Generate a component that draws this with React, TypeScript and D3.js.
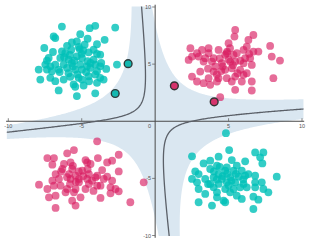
import React from 'react';
import * as d3 from 'd3';

const W = 310;
const H = 242;

// scatter clusters, [x, y] in data units
const cyanTopLeft: [number, number][] = [
  [-6.35, 8.29], [-4.46, 8.15], [-4.08, 8.35], [-2.72, 8.2], [-6.91, 7.42], [-6.8, 7.28], [-5.1, 7.62],
  [-4.6, 7.22], [-5.67, 6.9], [-5.33, 6.99], [-3.96, 6.75], [-3.44, 7.13], [-7.55, 6.41], [-6.96, 6.06],
  [-6.35, 6.12], [-6.12, 5.97], [-5.71, 6.26], [-5.14, 6.32], [-4.53, 6.03], [-4.19, 6.26], [-3.74, 5.83],
  [-3.96, 5.9], [-7.25, 5.54], [-7.37, 5.31], [-6.46, 5.54], [-5.89, 5.39], [-5.33, 5.68], [-4.98, 5.54],
  [-4.6, 5.25], [-4.19, 5.39], [-3.67, 5.1], [-7.48, 4.96], [-7.14, 4.81], [-6.8, 4.96], [-6.23, 4.96],
  [-5.67, 5.1], [-5.1, 4.96], [-4.64, 4.81], [-4.08, 4.96], [-3.74, 4.81], [-2.6, 4.96], [-7.93, 4.52],
  [-7.37, 4.52], [-7.03, 4.38], [-6.57, 4.52], [-6.0, 4.67], [-5.44, 4.52], [-4.98, 4.52], [-4.42, 4.67],
  [-3.96, 4.38], [-3.33, 4.58], [-7.82, 3.65], [-7.14, 3.8], [-6.8, 3.51], [-6.23, 3.65], [-5.78, 3.89],
  [-5.21, 3.8], [-4.98, 3.65], [-4.53, 3.94], [-4.08, 4.09], [-3.74, 3.8], [-3.51, 3.65], [-5.55, 3.22],
  [-5.44, 3.02], [-4.87, 3.13], [-3.96, 3.36], [-6.57, 2.7], [-5.33, 2.2], [-4.08, 2.44], [-5.5, 5.3],
  [-5.0, 5.9], [-4.7, 4.3], [-5.9, 4.2], [-6.2, 5.6], [-4.4, 5.1], [-5.2, 6.5], [-6.0, 6.6], [-4.8, 6.7],
  [-5.6, 4.8], [-5.3, 4.1], [-4.5, 3.5], [-6.5, 4.3], [-5.8, 5.8], [-4.9, 6.2],
];

const crimsonTopRight: [number, number][] = [
  [5.45, 7.99], [5.4, 7.41], [6.69, 7.55], [6.35, 7.12], [5.0, 6.83], [6.24, 6.53], [2.4, 6.39], [3.64, 6.39],
  [3.19, 6.24], [4.32, 6.24], [7.83, 6.59], [2.85, 5.95], [3.64, 5.95], [4.88, 5.95], [5.56, 5.95], [6.02, 6.24],
  [6.69, 6.1], [7.03, 6.1], [2.51, 5.66], [2.96, 5.66], [3.41, 5.52], [3.98, 5.52], [4.77, 5.81], [5.34, 5.81],
  [6.13, 5.52], [6.47, 5.52], [7.94, 5.66], [8.5, 5.31], [2.28, 5.37], [3.3, 5.22], [3.87, 5.22], [4.54, 5.08],
  [5.11, 5.22], [5.45, 5.22], [6.02, 5.08], [6.58, 4.93], [4.09, 4.79], [4.77, 4.5], [5.22, 4.64], [5.79, 4.5],
  [3.07, 4.35], [3.98, 4.35], [6.24, 4.21], [2.51, 3.91], [3.64, 3.77], [4.32, 3.77], [4.88, 3.77], [5.45, 3.91],
  [6.02, 4.06], [8.05, 3.77], [2.85, 3.48], [3.3, 3.33], [3.75, 3.19], [4.21, 3.48], [5.22, 3.48], [5.9, 3.48],
  [6.58, 3.48], [5.45, 2.75], [6.58, 2.69], [4.43, 2.11], [5.0, 5.4], [4.6, 4.8], [5.3, 4.9], [4.9, 6.1],
  [4.4, 5.5], [5.8, 5.3], [3.6, 4.6], [4.2, 4.1], [5.6, 4.2], [4.5, 4.4], [6.4, 5.9], [5.1, 6.4],
];

const crimsonBottomLeft: [number, number][] = [
  [-3.95, -1.76], [-5.53, -2.52], [-5.99, -2.81], [-6.89, -3.22], [-7.34, -3.22], [-4.74, -3.4], [-3.9, -3.22],
  [-2.48, -2.93], [-2.93, -3.45], [-3.27, -3.6], [-4.63, -3.6], [-4.4, -3.74], [-6.21, -3.74], [-5.76, -3.6],
  [-7.0, -3.8], [-6.32, -4.18], [-5.65, -4.18], [-4.97, -4.33], [-3.61, -4.27], [-6.78, -4.62], [-5.87, -4.62],
  [-5.42, -4.76], [-4.51, -4.62], [-3.95, -4.76], [-3.27, -4.85], [-2.48, -4.39], [-6.55, -5.05], [-5.76, -5.05],
  [-5.19, -5.05], [-4.63, -5.05], [-4.06, -4.91], [-3.5, -5.05], [-7.0, -5.2], [-5.19, -5.35], [-4.51, -5.49],
  [-3.72, -5.64], [-2.93, -5.2], [-7.91, -5.55], [-7.34, -5.93], [-6.89, -5.64], [-6.44, -5.64], [-5.99, -5.93],
  [-5.42, -5.93], [-4.74, -5.93], [-3.95, -5.64], [-3.04, -5.78], [-2.7, -5.93], [-2.48, -6.13], [-7.23, -6.66],
  [-6.78, -6.51], [-6.1, -6.22], [-5.53, -6.22], [-5.08, -6.66], [-3.72, -6.71], [-3.04, -6.31], [-5.65, -6.95],
  [-5.42, -7.38], [-6.78, -7.59], [-1.69, -7.09], [-0.78, -5.35], [-5.4, -5.3], [-4.9, -4.8], [-5.8, -5.5],
  [-4.3, -5.2], [-5.2, -4.4], [-6.0, -4.9], [-4.6, -4.2], [-5.6, -3.9], [-4.2, -6.1], [-6.4, -4.4],
];

const cyanBottomRight: [number, number][] = [
  [4.82, -1.04], [2.51, -3.07], [5.04, -2.52], [4.32, -3.1], [5.22, -3.4], [6.81, -2.73], [7.37, -2.73],
  [7.15, -3.16], [7.3, -3.69], [6.13, -3.51], [3.3, -3.69], [3.75, -3.45], [4.21, -3.89], [4.88, -4.04],
  [5.56, -3.89], [3.75, -4.18], [4.77, -4.33], [5.34, -4.33], [5.9, -4.33], [6.35, -4.62], [2.73, -4.39],
  [2.96, -4.62], [4.32, -4.62], [2.51, -5.05], [3.41, -5.05], [3.98, -4.91], [4.54, -5.05], [5.11, -4.91],
  [5.68, -4.85], [6.13, -4.76], [6.81, -4.76], [8.28, -4.85], [2.85, -5.35], [3.75, -5.49], [4.32, -5.49],
  [4.88, -5.35], [5.45, -5.35], [6.02, -5.49], [6.81, -5.35], [7.26, -5.35], [2.96, -5.93], [3.98, -5.78],
  [4.77, -5.93], [5.34, -5.93], [5.79, -5.78], [6.24, -5.78], [6.81, -5.78], [7.37, -5.93], [7.71, -6.22],
  [3.41, -6.36], [4.21, -6.22], [5.11, -6.22], [5.56, -6.51], [6.69, -6.6], [2.96, -7.09], [4.21, -6.66],
  [4.66, -6.95], [5.9, -6.8], [7.03, -6.86], [3.87, -7.38], [4.77, -7.09], [6.69, -7.68], [4.6, -4.8],
  [5.0, -5.6], [4.2, -5.1], [5.5, -4.6], [4.0, -4.4], [3.6, -5.5], [4.9, -4.6], [5.2, -5.2], [4.4, -4.0],
  [6.0, -5.1],
];

// support vectors
const cyanSupport: [number, number][] = [[-1.84, 5.04], [-2.72, 2.43]];
const crimsonSupport: [number, number][] = [[1.31, 3.1], [4.02, 1.7]];

// decision function: level 0 and margins -1 / +1
const boundaryTrace: [number, number][] = [
  [-10, -0.94], [-6.46, -0.4], [-3.74, 0.07], [-3.06, 0.2], [-1.7, 0.6], [-0.9, 1.9], [-0.82, 6.2], [-1.08, 10],
  [1.16, -9.9], [0.88, -0.78], [1.36, -0.17], [2.52, 0.09], [6.8, 0.78], [10, 1.27],
];
const cyanMarginTrace: [number, number][] = [
  [-10, -0.16], [-5.3, 0.57], [-3.74, 1.15], [-2.72, 2.43], [-1.84, 5.04], [-1.7, 10],
  [1.7, -10], [1.9, -5.8], [2.24, -3.45], [3.4, -1.7], [5.25, -0.57], [6.8, -0.13], [10, -0.15],
];
const crimsonMarginTrace: [number, number][] = [
  [-10, -1.68], [-3.74, -1.2], [-1.7, -1.7], [-1.03, -3.4], [-0.35, -6.9], [0, -10],
  [0.1, 10], [0.35, 6.1], [1.31, 3.1], [2.2, 2.1], [4.02, 1.7], [10, 1.88],
];

const xTicks = [-10, -5, 5, 10];
const yTicks = [10, 5, -5, -10];

const feats = (x: number, y: number) => [
  x * x * x, x * x * y, x * y * y, y * y * y, x * x, x * y, y * y, x, y, 1,
];

// least squares fit of a cubic surface to the traced levels
function fitSurface() {
  const rows: [number, number, number][] = [
    ...boundaryTrace.map(([x, y]) => [x, y, 0] as [number, number, number]),
    ...cyanMarginTrace.map(([x, y]) => [x, y, -1] as [number, number, number]),
    ...crimsonMarginTrace.map(([x, y]) => [x, y, 1] as [number, number, number]),
  ];
  const k = feats(0, 0).length;
  const M = d3.range(k).map(() => new Array(k + 1).fill(0));
  rows.forEach(([x, y, v]) => {
    const f = feats(x, y);
    for (let i = 0; i < k; i++) {
      for (let j = 0; j < k; j++) M[i][j] += f[i] * f[j];
      M[i][k] += f[i] * v;
    }
  });
  for (let i = 0; i < k; i++) M[i][i] += 1e-6;
  for (let c = 0; c < k; c++) {
    let p = c;
    for (let r = c + 1; r < k; r++) if (Math.abs(M[r][c]) > Math.abs(M[p][c])) p = r;
    [M[c], M[p]] = [M[p], M[c]];
    for (let r = 0; r < k; r++) {
      if (r === c) continue;
      const t = M[r][c] / M[c][c];
      for (let j = c; j <= k; j++) M[r][j] -= t * M[c][j];
    }
  }
  const w = M.map((row, i) => row[k] / row[i]);
  return (x: number, y: number) => feats(x, y).reduce((s, f, i) => s + f * w[i], 0);
}

export default function App() {
  const x = d3.scaleLinear().domain([-10, 10]).range([8.3, 302]);
  const y = d3.scaleLinear().domain([10, -10]).range([7, 235.5]);
  const f = fitSurface();

  // sample the decision function on a grid a bit larger than the plot
  const n = 260;
  const lo = -10.8;
  const step = 21.6 / (n - 1);
  const fv: number[] = new Array(n * n);
  const band: number[] = new Array(n * n);
  for (let j = 0; j < n; j++) {
    for (let i = 0; i < n; i++) {
      const v = f(lo + i * step, -lo - j * step);
      fv[j * n + i] = v;
      band[j * n + i] = 1 - Math.abs(v);
    }
  }
  const toPx = (g: any) => ({
    ...g,
    coordinates: g.coordinates.map((poly: any) =>
      poly.map((ring: any) =>
        ring.map(([cx, cy]: [number, number]) => [x(lo + (cx - 0.5) * step), y(-lo - (cy - 0.5) * step)])
      )
    ),
  });
  const contours = d3.contours().size([n, n]);
  const geo = d3.geoPath();
  const bandPath = geo(toPx(contours.contour(band, 0)) as any) || '';
  const linePath = geo(toPx(contours.contour(fv, 0)) as any) || '';

  const x0 = x(0);
  const y0 = y(0);
  const font = 'Liberation Sans, Arial, sans-serif';

  const dots = (pts: [number, number][], color: string, op: number) =>
    pts.map((d, i) => <circle key={i} cx={x(d[0])} cy={y(d[1])} r={3.9} fill={color} fillOpacity={op} />);

  return (
    <svg width={W} height={H} style={{ position: 'absolute', left: 0, top: 0, background: '#fff' }}>
      <defs>
        <clipPath id="plot">
          <rect x={x(-10.1)} y={y(10.05)} width={x(10.1) - x(-10.1)} height={y(-10.05) - y(10.05)} />
        </clipPath>
      </defs>
      <path d={bandPath} fill="#dae7f1" clipPath="url(#plot)" />

      {/* axes through the origin */}
      <line x1={x(-10.15)} x2={x(10.15)} y1={y0} y2={y0} stroke="#4a4a4a" strokeWidth={1} />
      <line x1={x0} x2={x0} y1={y(10.2)} y2={y(-10.2)} stroke="#4a4a4a" strokeWidth={1} />
      {xTicks.map((t) => (
        <g key={t}>
          <line x1={x(t)} x2={x(t)} y1={y0 - 3} y2={y0} stroke="#666" strokeWidth={0.8} />
          <text x={x(t)} y={y0 + 7} fontSize={5.5} fontFamily={font} fill="#555" textAnchor="middle">{t}</text>
        </g>
      ))}
      {yTicks.map((t) => (
        <g key={t}>
          <line x1={x0 - 3} x2={x0} y1={y(t)} y2={y(t)} stroke="#666" strokeWidth={0.8} />
          <text x={x0 - 4} y={y(t) + 2} fontSize={5.5} fontFamily={font} fill="#555" textAnchor="end">{t}</text>
        </g>
      ))}
      <text x={x0 - 4} y={y0 + 7} fontSize={5.5} fontFamily={font} fill="#555" textAnchor="end">0</text>

      <path d={linePath} fill="none" stroke="#5b6068" strokeWidth={1.3} clipPath="url(#plot)" />

      {dots(cyanTopLeft, '#00c0b8', 0.8)}
      {dots(cyanBottomRight, '#00c0b8', 0.8)}
      {dots(crimsonTopRight, '#d81b60', 0.64)}
      {dots(crimsonBottomLeft, '#d81b60', 0.64)}
      {cyanSupport.map((d, i) => (
        <circle key={'cs' + i} cx={x(d[0])} cy={y(d[1])} r={3.9} fill="#14b8b0" stroke="#2f3a3a" strokeWidth={1.4} />
      ))}
      {crimsonSupport.map((d, i) => (
        <circle key={'rs' + i} cx={x(d[0])} cy={y(d[1])} r={3.9} fill="#d6336c" stroke="#333" strokeWidth={1.4} />
      ))}
    </svg>
  );
}
